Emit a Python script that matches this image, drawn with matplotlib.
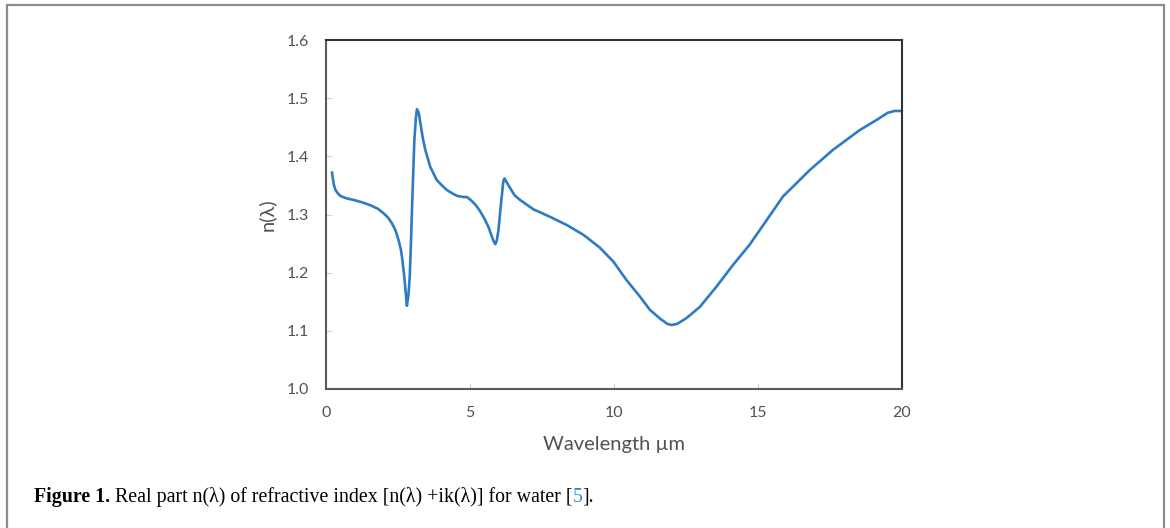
import matplotlib
matplotlib.use('Agg')
import matplotlib.pyplot as plt
from matplotlib.patches import Rectangle

# Refractive index of water, real part
wavelength = [0.21, 0.27, 0.33, 0.42, 0.50, 0.70, 0.96, 1.25, 1.54, 1.80, 2.00, 2.15, 2.29, 2.42,
              2.52, 2.60, 2.64, 2.72, 2.77, 2.81, 2.86, 2.91, 2.95, 2.99, 3.03, 3.07, 3.12, 3.16,
              3.22, 3.28, 3.36, 3.45, 3.62, 3.85, 4.05, 4.20, 4.40, 4.55, 4.78, 4.90, 5.07, 5.22,
              5.36, 5.50, 5.64, 5.76, 5.84, 5.88, 5.93, 5.99, 6.08, 6.16, 6.20, 6.28, 6.40, 6.55,
              6.74, 7.20, 7.78, 8.36, 8.94, 9.51, 9.98, 10.44, 10.90, 11.25, 11.60, 11.85, 12.00,
              12.20, 12.52, 12.98, 13.56, 14.13, 14.71, 15.06, 15.87, 16.79, 17.60, 18.53, 19.10,
              19.51, 19.75, 20.0]
n_real = [1.372, 1.352, 1.342, 1.336, 1.332, 1.328, 1.325, 1.321, 1.316, 1.310, 1.302, 1.295, 1.285,
          1.272, 1.256, 1.240, 1.227, 1.193, 1.165, 1.143, 1.160, 1.193, 1.250, 1.313, 1.372, 1.428,
          1.465, 1.481, 1.475, 1.457, 1.432, 1.411, 1.382, 1.359, 1.349, 1.342, 1.336, 1.332, 1.330,
          1.330, 1.323, 1.315, 1.305, 1.293, 1.279, 1.262, 1.252, 1.249, 1.255, 1.273, 1.320, 1.358,
          1.362, 1.355, 1.345, 1.333, 1.325, 1.309, 1.296, 1.282, 1.265, 1.243, 1.219, 1.187, 1.159,
          1.136, 1.121, 1.112, 1.110, 1.112, 1.122, 1.141, 1.176, 1.213, 1.248, 1.273, 1.331, 1.376,
          1.411, 1.445, 1.462, 1.475, 1.478, 1.478]

x_ticks = [0, 5, 10, 15, 20]
y_ticks = [1.0, 1.1, 1.2, 1.3, 1.4, 1.5, 1.6]

fig = plt.figure(figsize=(11.7, 5.28), dpi=100)
ax = fig.add_axes([0.2786, 0.2633, 0.4923, 0.6609])

ax.plot(wavelength, n_real, color='#2e7bc4', linewidth=1.9, solid_joinstyle='round')

ax.set_xlim(0, 20)
ax.set_ylim(1.0, 1.6)
ax.set_xticks(x_ticks)
ax.set_yticks(y_ticks)
ax.set_xticklabels([str(t) for t in x_ticks])
ax.set_yticklabels(['%.1f' % t for t in y_ticks])
ax.tick_params(direction='in', length=4, color='#d0d0d0', labelcolor='#525252',
               labelsize=11.5, pad=12)
for lbl in ax.get_xticklabels() + ax.get_yticklabels():
    lbl.set_family('Lato')

ax.spines['left'].set_color('#5a5a5a')
ax.spines['bottom'].set_color('#5a5a5a')
ax.spines['top'].set_color('#333333')
ax.spines['right'].set_color('#333333')
for s in ax.spines.values():
    s.set_linewidth(1.5)

ax.set_xlabel('Wavelength µm', family='Lato', fontsize=14.5, color='#525252', labelpad=12)
ax.set_ylabel('n(λ)', family='Lato', fontsize=14.5, color='#525252', labelpad=8)

# outer frame of the figure panel
fig.patches.append(Rectangle((7 / 1170, -0.05), (1164 - 7) / 1170, 1.05 - 5 / 528,
                             transform=fig.transFigure, fill=False,
                             edgecolor='#8c8c8c', linewidth=1.6))

# caption
cap_y = 1 - 497 / 528
cap_size = 14.3
t1 = fig.text(34 / 1170, cap_y, 'Figure 1.', family='Liberation Serif',
              fontweight='bold', fontsize=cap_size, va='center', ha='left')
fig.canvas.draw()
bb = t1.get_window_extent()
t2 = fig.text(bb.x1 / 1170 + 0.004, cap_y,
              'Real part n(λ) of refractive index [n(λ) +ik(λ)] for water [',
              family='Liberation Serif', fontsize=cap_size, va='center', ha='left')
fig.canvas.draw()
bb = t2.get_window_extent()
t3 = fig.text(bb.x1 / 1170, cap_y, '5', family='Liberation Serif', fontsize=cap_size,
              color='#2a8fd0', va='center', ha='left')
fig.canvas.draw()
bb = t3.get_window_extent()
fig.text(bb.x1 / 1170, cap_y, '].', family='Liberation Serif', fontsize=cap_size,
         va='center', ha='left')

fig.savefig('out.png', dpi=100)
